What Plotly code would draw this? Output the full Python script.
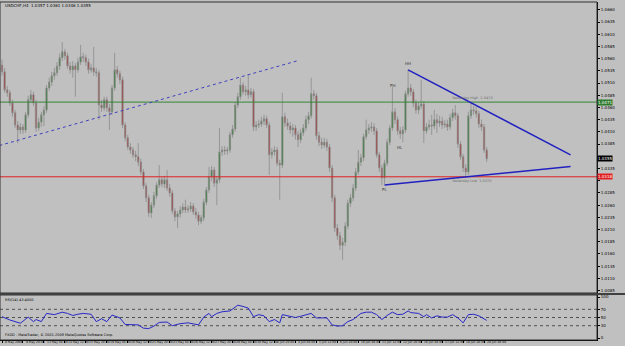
import plotly.graph_objects as go

# ---------------- data (USDCHF, H4) ----------------
bars = list(range(186))

opens = [1.0547,1.0533,1.0496,1.0490,1.0469,1.0449,1.0424,1.0414,1.0420,1.0414,
 1.0445,1.0476,1.0486,1.0469,1.0418,1.0430,1.0445,1.0455,1.0500,1.0512,
 1.0525,1.0531,1.0545,1.0562,1.0574,1.0566,1.0545,1.0537,1.0545,1.0537,
 1.0553,1.0564,1.0562,1.0553,1.0537,1.0541,1.0533,1.0531,1.0465,1.0459,
 1.0476,1.0459,1.0451,1.0500,1.0537,1.0529,1.0517,1.0424,1.0398,1.0379,
 1.0373,1.0363,1.0359,1.0348,1.0328,1.0299,1.0275,1.0244,1.0260,1.0279,
 1.0301,1.0312,1.0303,1.0312,1.0295,1.0285,1.0248,1.0236,1.0242,1.0250,
 1.0256,1.0250,1.0252,1.0258,1.0246,1.0240,1.0227,1.0234,1.0266,1.0291,
 1.0318,1.0332,1.0305,1.0312,1.0369,1.0373,1.0371,1.0373,1.0404,1.0416,
 1.0465,1.0482,1.0506,1.0492,1.0496,1.0486,1.0492,1.0420,1.0424,1.0426,
 1.0432,1.0437,1.0424,1.0363,1.0369,1.0373,1.0346,1.0342,1.0441,1.0428,
 1.0422,1.0414,1.0418,1.0404,1.0394,1.0408,1.0418,1.0435,1.0443,1.0488,
 1.0484,1.0402,1.0389,1.0383,1.0389,1.0379,1.0336,1.0275,1.0213,1.0197,
 1.0178,1.0184,1.0217,1.0264,1.0275,1.0295,1.0328,1.0348,1.0357,1.0400,
 1.0414,1.0418,1.0420,1.0412,1.0363,1.0336,1.0316,1.0346,1.0389,1.0418,
 1.0451,1.0435,1.0412,1.0406,1.0414,1.0488,1.0500,1.0492,1.0469,1.0455,
 1.0463,1.0467,1.0412,1.0420,1.0424,1.0422,1.0435,1.0428,1.0432,1.0424,
 1.0426,1.0420,1.0439,1.0449,1.0443,1.0385,1.0359,1.0336,1.0328,1.0443,
 1.0455,1.0453,1.0447,1.0426,1.0420,1.0373]

closes = [1.0533,1.0496,1.0490,1.0469,1.0449,1.0424,1.0414,1.0420,1.0414,1.0445,
 1.0476,1.0486,1.0469,1.0418,1.0430,1.0445,1.0455,1.0500,1.0512,1.0525,
 1.0531,1.0545,1.0562,1.0574,1.0566,1.0545,1.0537,1.0545,1.0537,1.0553,
 1.0564,1.0562,1.0553,1.0537,1.0541,1.0533,1.0531,1.0465,1.0459,1.0476,
 1.0459,1.0451,1.0500,1.0537,1.0529,1.0517,1.0424,1.0398,1.0379,1.0373,
 1.0363,1.0359,1.0348,1.0328,1.0299,1.0275,1.0244,1.0260,1.0279,1.0301,
 1.0312,1.0303,1.0312,1.0295,1.0285,1.0248,1.0236,1.0242,1.0250,1.0256,
 1.0250,1.0252,1.0258,1.0246,1.0240,1.0227,1.0234,1.0266,1.0291,1.0318,
 1.0332,1.0305,1.0312,1.0369,1.0373,1.0371,1.0373,1.0404,1.0416,1.0465,
 1.0482,1.0506,1.0492,1.0496,1.0486,1.0492,1.0420,1.0424,1.0426,1.0432,
 1.0437,1.0424,1.0363,1.0369,1.0373,1.0346,1.0342,1.0441,1.0428,1.0422,
 1.0414,1.0418,1.0404,1.0394,1.0408,1.0418,1.0435,1.0443,1.0488,1.0484,
 1.0402,1.0389,1.0383,1.0389,1.0379,1.0336,1.0275,1.0213,1.0197,1.0178,
 1.0184,1.0217,1.0264,1.0275,1.0295,1.0328,1.0348,1.0357,1.0400,1.0414,
 1.0418,1.0420,1.0412,1.0363,1.0336,1.0316,1.0346,1.0389,1.0418,1.0451,
 1.0435,1.0412,1.0406,1.0414,1.0488,1.0500,1.0492,1.0469,1.0455,1.0463,
 1.0467,1.0412,1.0420,1.0424,1.0422,1.0435,1.0428,1.0432,1.0424,1.0426,
 1.0420,1.0439,1.0449,1.0443,1.0385,1.0359,1.0336,1.0328,1.0443,1.0455,
 1.0453,1.0447,1.0426,1.0420,1.0373,1.0355]

highs = [1.0558,1.0541,1.0504,1.0496,1.0476,1.0455,1.0432,1.0428,1.0426,1.0451,
 1.0484,1.0496,1.0492,1.0476,1.0439,1.0451,1.0463,1.0506,1.0521,1.0533,
 1.0541,1.0553,1.0570,1.0594,1.0580,1.0572,1.0553,1.0555,1.0551,1.0562,
 1.0588,1.0572,1.0568,1.0560,1.0549,1.0584,1.0541,1.0537,1.0476,1.0482,
 1.0482,1.0467,1.0506,1.0572,1.0545,1.0535,1.0523,1.0430,1.0404,1.0387,
 1.0379,1.0371,1.0387,1.0355,1.0334,1.0305,1.0281,1.0266,1.0287,1.0307,
 1.0342,1.0318,1.0320,1.0332,1.0303,1.0291,1.0254,1.0248,1.0258,1.0264,
 1.0271,1.0260,1.0266,1.0264,1.0254,1.0246,1.0240,1.0273,1.0297,1.0338,
 1.0340,1.0338,1.0320,1.0418,1.0381,1.0381,1.0379,1.0410,1.0424,1.0471,
 1.0490,1.0521,1.0512,1.0504,1.0527,1.0500,1.0498,1.0432,1.0435,1.0441,
 1.0445,1.0443,1.0430,1.0377,1.0381,1.0379,1.0353,1.0490,1.0449,1.0437,
 1.0430,1.0426,1.0424,1.0412,1.0416,1.0426,1.0443,1.0451,1.0521,1.0496,
 1.0490,1.0410,1.0398,1.0398,1.0396,1.0385,1.0342,1.0281,1.0221,1.0205,
 1.0193,1.0225,1.0271,1.0283,1.0303,1.0336,1.0373,1.0365,1.0406,1.0435,
 1.0426,1.0430,1.0428,1.0418,1.0369,1.0342,1.0353,1.0396,1.0424,1.0502,
 1.0459,1.0441,1.0420,1.0422,1.0494,1.0537,1.0508,1.0498,1.0476,1.0471,
 1.0517,1.0473,1.0428,1.0435,1.0445,1.0455,1.0447,1.0443,1.0441,1.0435,
 1.0435,1.0447,1.0457,1.0465,1.0449,1.0391,1.0365,1.0344,1.0451,1.0469,
 1.0463,1.0461,1.0453,1.0435,1.0426,1.0379]

lows = [1.0525,1.0490,1.0482,1.0463,1.0441,1.0418,1.0387,1.0406,1.0406,1.0408,
 1.0439,1.0469,1.0463,1.0410,1.0412,1.0420,1.0422,1.0449,1.0494,1.0504,
 1.0517,1.0525,1.0537,1.0555,1.0558,1.0539,1.0529,1.0521,1.0482,1.0531,
 1.0547,1.0553,1.0545,1.0529,1.0531,1.0525,1.0523,1.0435,1.0451,1.0453,
 1.0451,1.0414,1.0445,1.0494,1.0521,1.0508,1.0418,1.0391,1.0373,1.0365,
 1.0357,1.0350,1.0340,1.0322,1.0293,1.0266,1.0236,1.0234,1.0254,1.0273,
 1.0295,1.0297,1.0295,1.0289,1.0277,1.0242,1.0227,1.0213,1.0234,1.0244,
 1.0244,1.0244,1.0246,1.0240,1.0232,1.0219,1.0221,1.0227,1.0260,1.0285,
 1.0309,1.0297,1.0260,1.0305,1.0361,1.0363,1.0363,1.0367,1.0398,1.0410,
 1.0459,1.0476,1.0486,1.0484,1.0478,1.0480,1.0412,1.0412,1.0418,1.0420,
 1.0424,1.0418,1.0322,1.0355,1.0361,1.0340,1.0271,1.0336,1.0420,1.0414,
 1.0406,1.0400,1.0394,1.0379,1.0387,1.0402,1.0412,1.0426,1.0437,1.0476,
 1.0394,1.0381,1.0375,1.0377,1.0371,1.0328,1.0266,1.0205,1.0189,1.0168,
 1.0148,1.0176,1.0211,1.0256,1.0268,1.0289,1.0322,1.0340,1.0350,1.0394,
 1.0406,1.0410,1.0404,1.0357,1.0328,1.0301,1.0303,1.0340,1.0383,1.0412,
 1.0426,1.0404,1.0396,1.0389,1.0408,1.0482,1.0484,1.0461,1.0447,1.0447,
 1.0457,1.0387,1.0406,1.0414,1.0404,1.0416,1.0408,1.0420,1.0416,1.0418,
 1.0412,1.0414,1.0432,1.0435,1.0377,1.0353,1.0328,1.0316,1.0322,1.0437,
 1.0445,1.0439,1.0418,1.0412,1.0367,1.0348]

# time axis labels (every 8 bars)
time_label_bars = list(range(0, 186, 8))
time_labels = ["8 May 2008", "9 May 20:00", "13 May 04:00", "14 May 12:00", "15 May 20:00",
               "19 May 04:00", "20 May 12:00", "21 May 20:00", "23 May 04:00", "26 May 12:00",
               "27 May 20:00", "29 May 04:00", "30 May 12:00", "2 Jun 20:00", "4 Jun 04:00",
               "5 Jun 12:00", "6 Jun 20:00", "10 Jun 04:00", "11 Jun 12:00", "12 Jun 20:00",
               "16 Jun 04:00", "17 Jun 12:00", "18 Jun 20:00", "20 Jun 04:00"]

# price scale labels
price_ticks = [round(1.0085 + 0.0025 * k, 4) for k in range(24)]

# RSI(14) readings
rsi_bars = [0,3,7,10,12,13,15,17,20,23,25,27,29,31,34,36,38,40,42,45,47,52,54,56,58,60,
            63,65,68,71,75,77,79,80,82,84,87,90,92,94,96,98,100,102,104,106,107,110,112,
            114,118,120,124,126,128,130,132,134,137,139,141,143,145,147,149,151,153,155,
            156,159,161,162,164,166,168,170,172,174,176,178,180,182,185]
rsi_vals = [52,44,36,51,40,45,40,60,57,63,60,55,58,60,58,40,47,40,56,49,33,32,24,23,29,38,
            39,30,35,37,32,51,60,52,60,64,66,80,77,73,52,57,54,40,45,37,57,52,50,
            53,60,49,49,32,29,30,40,45,60,63,63,57,45,55,63,57,58,66,
            62,60,52,57,49,54,51,51,57,49,37,57,58,54,43]
rsi_levels = [30, 50, 70]

# horizontal levels and trend lines
high_level = 1.0471
low_level = 1.0318
dotted_line_bars = [-1, 113]
dotted_line_prices = [1.0382, 1.0556]
upper_line_bars = [155, 217]
upper_line_prices = [1.0537, 1.0363]
lower_line_bars = [146, 217]
lower_line_prices = [1.0301, 1.0339]
pivot_bars = [146, 149, 152, 155]
pivot_prices = [1.0292, 1.0505, 1.0378, 1.0551]
pivot_names = ["PL", "PH", "HL", "HH"]

# ---------------- figure ----------------
BG = "#c0c0c0"
XR = [-0.763, 227.1]
MAIN_Y = [0.1532, 0.9942]
RSI_Y = [0.0173, 0.1474]
XD = [0.0, 0.9552]

boxes = [(high_level, "#2e7d2e"), (low_level, "#e02020"), (closes[-1], "#000000")]
# tick labels hidden underneath the coloured price boxes
tick_text = []
for v in price_ticks:
    covered = any(abs(v - p) < 0.0009 for p, _ in boxes)
    tick_text.append("" if covered else f"{v:.4f}")

fig = go.Figure()

fig.add_trace(go.Candlestick(
    x=bars, open=opens, high=highs, low=lows, close=closes,
    increasing=dict(line=dict(color="#8c8c8c", width=0.8), fillcolor="#237a23"),
    decreasing=dict(line=dict(color="#8c8c8c", width=0.8), fillcolor="#a82a2a"),
    whiskerwidth=0, showlegend=False, hoverinfo="skip", xaxis="x", yaxis="y"))

fig.add_trace(go.Scatter(x=XR, y=[high_level, high_level], mode="lines",
                         line=dict(color="#348534", width=1), showlegend=False,
                         hoverinfo="skip", xaxis="x", yaxis="y"))
fig.add_trace(go.Scatter(x=XR, y=[low_level, low_level], mode="lines",
                         line=dict(color="#e02020", width=1), showlegend=False,
                         hoverinfo="skip", xaxis="x", yaxis="y"))

fig.add_trace(go.Scatter(x=dotted_line_bars, y=dotted_line_prices, mode="lines",
                         line=dict(color="#4040c0", width=1, dash="dot"),
                         showlegend=False, hoverinfo="skip", xaxis="x", yaxis="y"))
for xs, ys in [(upper_line_bars, upper_line_prices), (lower_line_bars, lower_line_prices)]:
    fig.add_trace(go.Scatter(x=xs, y=ys, mode="lines", line=dict(color="#2020c0", width=1.5),
                             showlegend=False, hoverinfo="skip", xaxis="x", yaxis="y"))

for lv in rsi_levels:
    fig.add_trace(go.Scatter(x=XR, y=[lv, lv], mode="lines",
                             line=dict(color="#505050", width=1, dash="dot"),
                             showlegend=False, hoverinfo="skip", xaxis="x2", yaxis="y2"))
fig.add_trace(go.Scatter(x=rsi_bars, y=rsi_vals, mode="lines",
                         line=dict(color="#2828c8", width=1), showlegend=False,
                         hoverinfo="skip", xaxis="x2", yaxis="y2"))

fig.update_layout(
    width=625, height=346, margin=dict(l=0, r=0, t=0, b=0),
    paper_bgcolor=BG, plot_bgcolor=BG, showlegend=False,
    font=dict(family="DejaVu Sans", size=4, color="#000000"),
    xaxis=dict(domain=XD, range=XR, anchor="y", showticklabels=False, showgrid=False,
               zeroline=False, rangeslider=dict(visible=False), showline=False),
    yaxis=dict(domain=MAIN_Y, range=[1.0080, 1.0676], side="right", anchor="x",
               tickvals=price_ticks, ticktext=tick_text,
               ticks="outside", ticklen=2, tickcolor="#000", showgrid=False, zeroline=False,
               showline=True, linecolor="#000", linewidth=1, tickfont=dict(size=4)),
    xaxis2=dict(domain=XD, range=XR, anchor="y2", showticklabels=False, showgrid=False,
                zeroline=False, tickvals=time_label_bars, ticks="outside", ticklen=2,
                tickcolor="#000", showline=True, linecolor="#000"),
    yaxis2=dict(domain=RSI_Y, range=[-4.9, 104.9], side="right", anchor="x2",
                tickvals=[0, 30, 50, 70, 100], ticks="outside", ticklen=2, tickcolor="#000",
                showgrid=False, zeroline=False, showline=True, linecolor="#000",
                tickfont=dict(size=4)),
)

# frames
fig.add_shape(type="rect", xref="paper", yref="paper", x0=XD[0], x1=XD[1], y0=MAIN_Y[0], y1=MAIN_Y[1],
              line=dict(color="#303030", width=1))
fig.add_shape(type="rect", xref="paper", yref="paper", x0=XD[0], x1=XD[1], y0=RSI_Y[0], y1=RSI_Y[1],
              line=dict(color="#303030", width=1))
fig.add_shape(type="line", xref="paper", yref="paper", x0=0, x1=1, y0=0.1503, y1=0.1503,
              line=dict(color="#404040", width=2))

ann = []
for b, t in zip(time_label_bars, time_labels):
    ann.append(dict(x=b, y=0.0, xref="x2", yref="paper", text=t, showarrow=False,
                    xanchor="left", yanchor="bottom", xshift=1, font=dict(size=3)))
ann.append(dict(x=0.004, y=0.996, xref="paper", yref="paper", showarrow=False,
                text="USDCHF,H4  1.0357 1.0361 1.0346 1.0355", xanchor="left", yanchor="top",
                font=dict(size=4)))
ann.append(dict(x=0.004, y=0.145, xref="paper", yref="paper", showarrow=False,
                text="RSI(14) 43.4000", xanchor="left", yanchor="top", font=dict(size=3.5)))
ann.append(dict(x=0.004, y=0.02, xref="paper", yref="paper", showarrow=False,
                text="FXDD - MetaTrader, © 2001-2008 MetaQuotes Software Corp.",
                xanchor="left", yanchor="bottom", font=dict(size=3.5)))
for b, p, n in zip(pivot_bars, pivot_prices, pivot_names):
    ann.append(dict(x=b, y=p, xref="x", yref="y", text=n, showarrow=False,
                    font=dict(size=4, color="#303030")))
ann.append(dict(x=171, y=high_level, xref="x", yref="y", text="Yesterday High  1.0470", showarrow=False,
                xanchor="left", yanchor="bottom", font=dict(size=3.5, color="#707070")))
ann.append(dict(x=171, y=low_level, xref="x", yref="y", text="Yesterday Low  1.0320", showarrow=False,
                xanchor="left", yanchor="top", font=dict(size=3.5, color="#707070")))
for p, c in boxes:
    ann.append(dict(x=XD[1], y=p, xref="paper", yref="y", text=f"{p:.4f}", showarrow=False,
                    xanchor="left", bgcolor=c, font=dict(size=4, color="#ffffff"), borderpad=0))
fig.update_layout(annotations=ann)

fig.write_html("out.html")
